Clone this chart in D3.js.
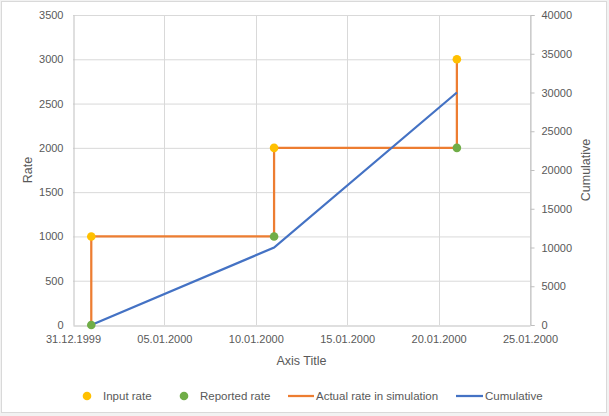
<!DOCTYPE html>
<html><head><meta charset="utf-8">
<script src="https://cdn.jsdelivr.net/npm/d3@7"></script>
<style>body{margin:0;background:#f2f2f2}text{font-family:"Liberation Sans",Arial,sans-serif;fill:#595959}</style>
</head><body><svg id="c" width="609" height="416"></svg>
<script>
const inputDates = ["01.01.2000","11.01.2000","21.01.2000"];
const inputRate = [1000,2000,3000];
const reportedDates = ["01.01.2000","11.01.2000","21.01.2000"];
const reportedRate = [0,1000,2000];
const actualDates = ["01.01.2000","01.01.2000","11.01.2000","11.01.2000","21.01.2000","21.01.2000"];
const actualRate = [0,1000,1000,2000,2000,3000];
const cumDates = ["01.01.2000","11.01.2000","21.01.2000"];
const cumulative = [0,10000,30000];
const xTickLabels = ["31.12.1999","05.01.2000","10.01.2000","15.01.2000","20.01.2000","25.01.2000"];
const leftTicks = [0,500,1000,1500,2000,2500,3000,3500];
const rightTicks = [0,5000,10000,15000,20000,25000,30000,35000,40000];

const parse = d3.timeParse("%d.%m.%Y");
const fmt = d3.timeFormat("%d.%m.%Y");
const svg = d3.select("#c");
svg.append("rect").attr("x",1.5).attr("y",1.5).attr("width",605).attr("height",411).attr("fill","#fff").attr("stroke","#d9d9d9");

const L=73,R=530,T=15,B=325;
const x = d3.scaleTime().domain([parse(xTickLabels[0]),parse(xTickLabels[xTickLabels.length-1])]).range([L,R]);
const yL = d3.scaleLinear().domain([0,3500]).range([B,T]);
const yR = d3.scaleLinear().domain([0,40000]).range([B,T]);
const xTicks = xTickLabels.map(parse);

// grid
svg.append("g").selectAll("line").data(leftTicks.slice(1)).join("line")
  .attr("x1",L).attr("x2",R).attr("y1",d=>yL(d)+0.5).attr("y2",d=>yL(d)+0.5).attr("stroke","#d9d9d9");
svg.append("g").selectAll("line").data(xTicks.slice(1)).join("line")
  .attr("x1",d=>Math.round(x(d))+0.5).attr("x2",d=>Math.round(x(d))+0.5).attr("y1",T).attr("y2",B).attr("stroke","#d9d9d9");

// axes
const gx = svg.append("g").attr("transform",`translate(0,${B+0.5})`)
  .call(d3.axisBottom(x).tickValues(xTicks).tickFormat(fmt).tickSize(0).tickPadding(10));
const gl = svg.append("g").attr("transform",`translate(${L+0.5},0)`)
  .call(d3.axisLeft(yL).tickValues(leftTicks).tickFormat(d3.format("d")).tickSize(0).tickPadding(10));
const gr = svg.append("g").attr("transform",`translate(${R+0.5},0)`)
  .call(d3.axisRight(yR).tickValues(rightTicks).tickFormat(d3.format("d")).tickSize(4).tickPadding(7));
[gx,gl,gr].forEach(g=>{g.select(".domain").attr("stroke","#bfbfbf");g.selectAll(".tick line").attr("stroke","#bfbfbf");
  g.selectAll("text").style("font-size","11px").attr("fill","#595959");});
gx.selectAll("text").attr("dy","0.71em");

// titles
svg.append("text").attr("x",(L+R)/2).attr("y",365).attr("text-anchor","middle").style("font-size","12.5px").text("Axis Title");
svg.append("text").attr("transform",`translate(32,${(T+B)/2}) rotate(-90)`).attr("text-anchor","middle").style("font-size","12.5px").text("Rate");
svg.append("text").attr("transform",`translate(590,${(T+B)/2}) rotate(-90)`).attr("text-anchor","middle").style("font-size","12.5px").text("Cumulative");

// lines
const lineL = d3.line().x(d=>x(parse(d[0]))).y(d=>yL(d[1]));
const lineR = d3.line().x(d=>x(parse(d[0]))).y(d=>yR(d[1]));
svg.append("path").datum(d3.zip(actualDates,actualRate)).attr("d",lineL).attr("fill","none").attr("stroke","#ED7D31").attr("stroke-width",2.25);
svg.append("path").datum(d3.zip(cumDates,cumulative)).attr("d",lineR).attr("fill","none").attr("stroke","#4472C4").attr("stroke-width",2.25);
svg.append("g").selectAll("circle").data(d3.zip(inputDates,inputRate)).join("circle")
  .attr("cx",d=>x(parse(d[0]))).attr("cy",d=>yL(d[1])).attr("r",4.3).attr("fill","#FFC000");
svg.append("g").selectAll("circle").data(d3.zip(reportedDates,reportedRate)).join("circle")
  .attr("cx",d=>x(parse(d[0]))).attr("cy",d=>yL(d[1])).attr("r",4.3).attr("fill","#70AD47");

// legend
const ly=396;
const lg = svg.append("g");
lg.append("circle").attr("cx",87).attr("cy",ly).attr("r",4.3).attr("fill","#FFC000");
lg.append("text").attr("x",103).attr("y",ly).attr("dy","0.35em").style("font-size","11.5px").text("Input rate");
lg.append("circle").attr("cx",184).attr("cy",ly).attr("r",4.3).attr("fill","#70AD47");
lg.append("text").attr("x",200).attr("y",ly).attr("dy","0.35em").style("font-size","11.5px").text("Reported rate");
lg.append("line").attr("x1",288).attr("x2",314).attr("y1",ly).attr("y2",ly).attr("stroke","#ED7D31").attr("stroke-width",2.25);
lg.append("text").attr("x",316).attr("y",ly).attr("dy","0.35em").style("font-size","11.5px").text("Actual rate in simulation");
lg.append("line").attr("x1",456).attr("x2",483).attr("y1",ly).attr("y2",ly).attr("stroke","#4472C4").attr("stroke-width",2.25);
lg.append("text").attr("x",485).attr("y",ly).attr("dy","0.35em").style("font-size","11.5px").text("Cumulative");
</script></body></html>
